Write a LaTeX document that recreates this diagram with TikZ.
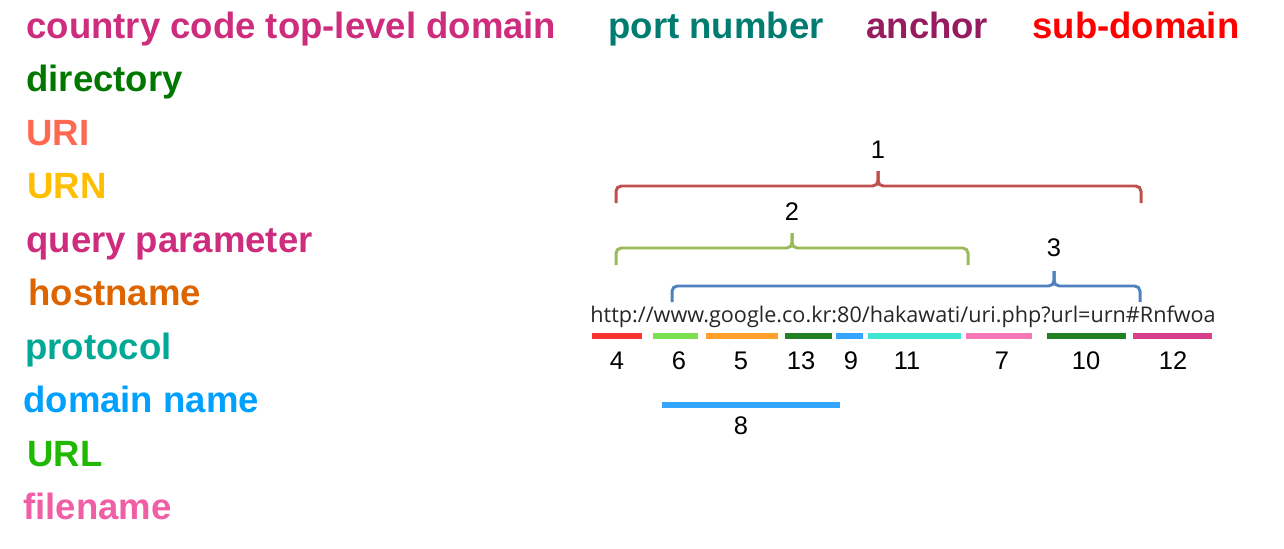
\documentclass[tikz,border=0pt]{standalone}
\usepackage{fontspec}
\setmainfont{Liberation Sans}
\newfontfamily\urlfont{Open Sans}
\usepackage{tikz}
\usetikzlibrary{positioning}
\definecolor{cctld}{RGB}{206,45,125}
\definecolor{portno}{RGB}{0,125,112}
\definecolor{anchorc}{RGB}{150,28,95}
\definecolor{subdom}{RGB}{255,0,0}
\definecolor{direct}{RGB}{0,120,0}
\definecolor{uric}{RGB}{255,105,82}
\definecolor{urnc}{RGB}{255,190,0}
\definecolor{query}{RGB}{206,45,125}
\definecolor{host}{RGB}{222,100,0}
\definecolor{proto}{RGB}{0,168,150}
\definecolor{domain}{RGB}{0,160,255}
\definecolor{urlc}{RGB}{30,185,0}
\definecolor{fname}{RGB}{240,95,165}
\definecolor{bred}{RGB}{192,80,77}
\definecolor{bgreen}{RGB}{155,187,89}
\definecolor{bblue}{RGB}{79,129,189}
\definecolor{ured}{RGB}{250,30,25}
\definecolor{ulime}{RGB}{110,220,60}
\definecolor{uorange}{RGB}{255,150,20}
\definecolor{udkgreen}{RGB}{10,115,10}
\definecolor{ublue}{RGB}{30,155,255}
\definecolor{ucyan}{RGB}{40,225,205}
\definecolor{upink}{RGB}{245,105,175}
\definecolor{umagenta}{RGB}{210,45,125}
\tikzstyle{term}  = [anchor=base west, inner sep=0pt, font=\fontsize{20.8}{21}\selectfont\bfseries]
\tikzstyle{num}   = [inner sep=0pt, font=\fontsize{14.5}{14}\selectfont]
\tikzstyle{brace} = [line width=1.7pt, rounded corners=3pt]
\tikzstyle{uline} = [line width=3.2pt, opacity=0.9]
\def\tick{15}

\begin{document}
\begin{tikzpicture}[x=0.02cm,y=-0.02cm]
		\useasboundingbox (0,0) rectangle (1284,548);
		% terms
		\node[term, text=cctld]   (cctld)  at (26,38)  {country code top-level domain};
		\node[term, text=portno]  (port)   at (608,38) {port number};
		\node[term, text=anchorc] (anch)   at (866,38) {anchor};
		\node[term, text=subdom]  (sub)    at (1032,38) {sub-domain};
		\node[term, text=direct]  (dir)    at (26,91.5)  {directory};
		\node[term, text=uric]    (uri)    at (26,145) {URI};
		\node[term, text=urnc]    (urn)    at (27,198.5) {URN};
		\node[term, text=query]   (query)  at (26,252) {query parameter};
		\node[term, text=host]    (host)   at (28,305.5) {hostname};
		\node[term, text=proto]   (proto)  at (25,359) {protocol};
		\node[term, text=domain]  (dom)    at (23,412.5) {domain name};
		\node[term, text=urlc]    (url)    at (27,466) {URL};
		\node[term, text=fname]   (file)   at (23,519.5) {filename};
		% the address
		\node[inner sep=0pt, anchor=base west, font=\urlfont\fontsize{12.3}{12}\selectfont, text=black!85] (addr) at (590,322)
			{http://www.google.co.kr:80/hakawati/uri.php?url=urn\#Rnfwoa};
		% braces
		\draw[brace, bred] (616,203) |- (878,186) -- (878,186-\tick);
		\draw[brace, bred] (878,186-\tick) -- (878,186) -| (1141,203);
		\node[num] (b1) at (878,150) {1};
		\draw[brace, bgreen] (616,265) |- (792,248) -- (792,248-\tick);
		\draw[brace, bgreen] (792,248-\tick) -- (792,248) -| (968,265);
		\node[num] (b2) at (792,212) {2};
		\draw[brace, bblue] (672,302) |- (1054,286) -- (1054,286-\tick);
		\draw[brace, bblue] (1054,286-\tick) -- (1054,286) -| (1140,302);
		\node[num] (b3) at (1054,248) {3};
		% underlines
		\foreach \a/\b/\c/\n/\m in {592/642/ured/4/617, 653/698/ulime/6/679, 706/778/uorange/5/741,
				785/832/udkgreen/13/801, 836/863/ublue/9/851, 868/961/ucyan/11/907,
				966/1032/upink/7/1002, 1047/1126/udkgreen/10/1086, 1133/1212/umagenta/12/1173}{
				\draw[uline, \c] (\a,336) -- (\b,336);
				\node[num] (n\n) at (\m,361) {\n};
			}
		\draw[uline, ublue] (662,405) -- (840,405);
		\node[num] (n8) at (741,426) {8};
	\end{tikzpicture}
\end{document}
